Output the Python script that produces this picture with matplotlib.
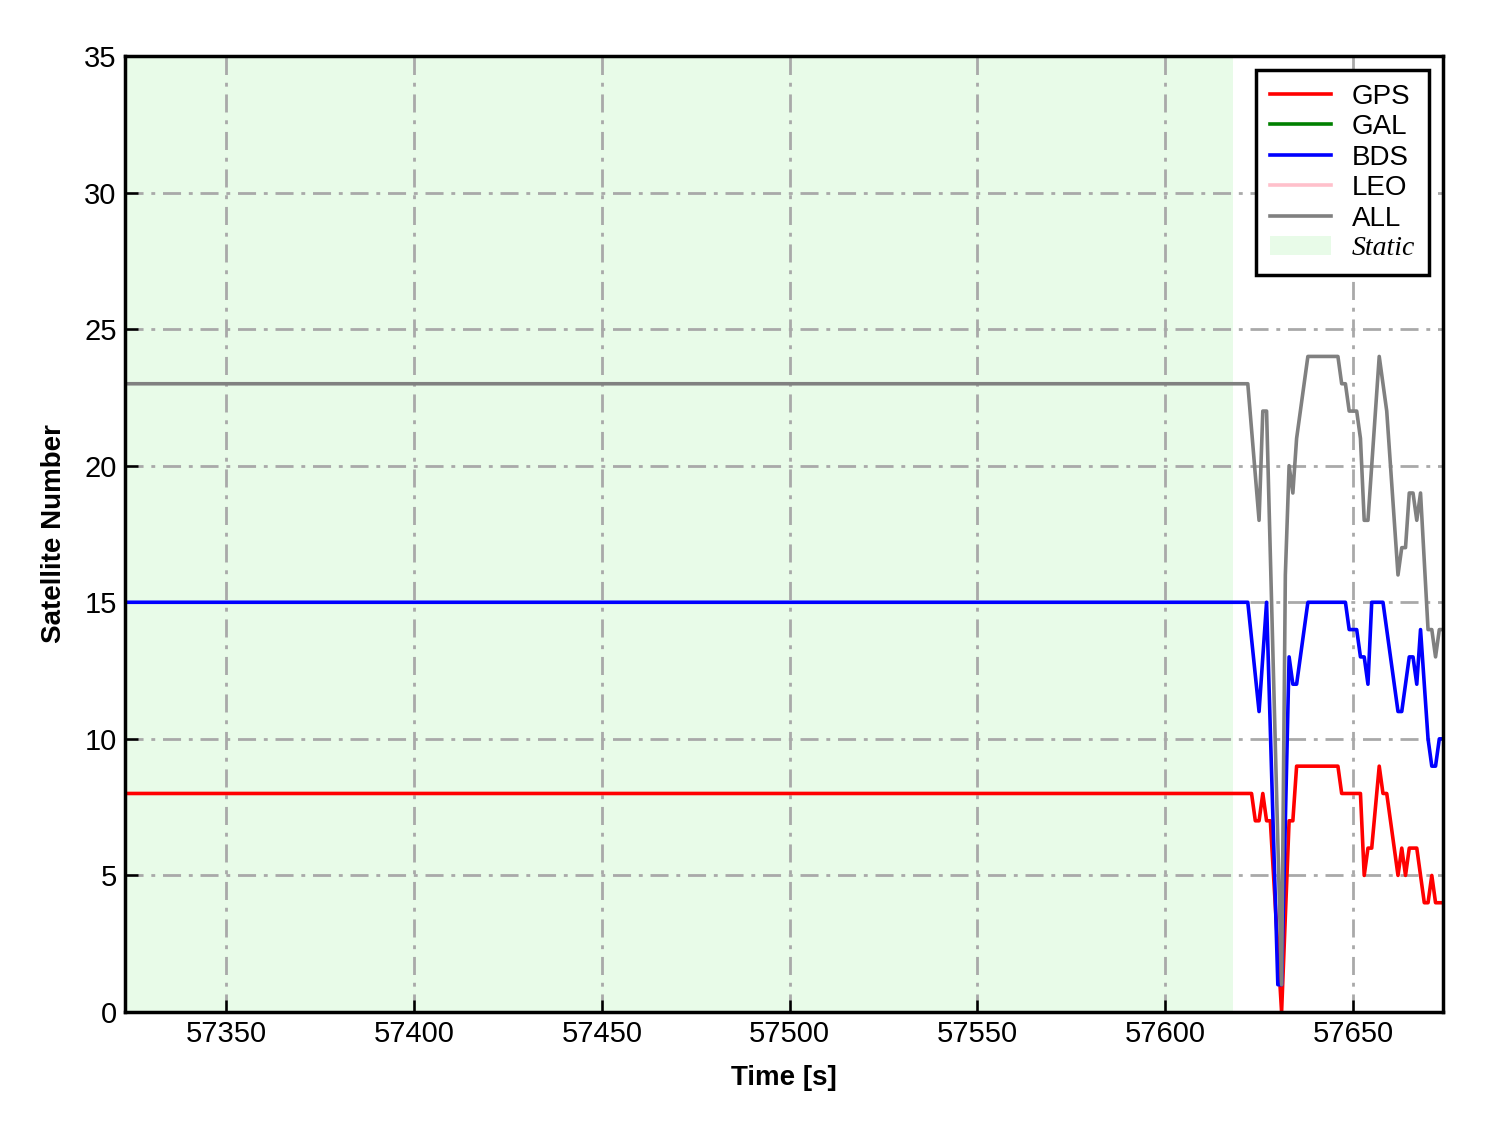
import numpy as np
import matplotlib
matplotlib.use('Agg')
import matplotlib.pyplot as plt

plt.rcParams['font.family'] = ['Liberation Sans', 'DejaVu Sans']

# epochs [s] and satellite counts
t_gps = [57323, 57623, 57624, 57625, 57626, 57627, 57628, 57631, 57633, 57634,
         57635, 57646, 57647, 57652, 57653, 57654, 57655, 57657, 57658, 57659,
         57662, 57663, 57664, 57665, 57667, 57669, 57670, 57671, 57672, 57674]
n_gps = [8, 8, 7, 7, 8, 7, 7, 0, 7, 7,
         9, 9, 8, 8, 5, 6, 6, 9, 8, 8,
         5, 6, 5, 6, 6, 4, 4, 5, 4, 4]

t_gal = []
n_gal = []

t_bds = [57323, 57622, 57625, 57627, 57630, 57631, 57633, 57634, 57635, 57638,
         57648, 57649, 57651, 57652, 57653, 57654, 57655, 57658, 57662, 57663,
         57665, 57666, 57667, 57668, 57670, 57671, 57672, 57673, 57674]
n_bds = [15, 15, 11, 15, 1, 1, 13, 12, 12, 15,
         15, 14, 14, 13, 13, 12, 15, 15, 11, 11,
         13, 13, 12, 14, 10, 9, 9, 10, 10]

t_leo = []
n_leo = []

t_all = [57323, 57622, 57625, 57626, 57627, 57631, 57632, 57633, 57634, 57635,
         57638, 57646, 57647, 57648, 57649, 57651, 57652, 57653, 57654, 57657,
         57659, 57662, 57663, 57664, 57665, 57666, 57667, 57668, 57670, 57671,
         57672, 57673, 57674]
n_all = [23, 23, 18, 22, 22, 1, 16, 20, 19, 21,
         24, 24, 23, 23, 22, 22, 21, 18, 18, 24,
         22, 16, 17, 17, 19, 19, 18, 19, 14, 14,
         13, 14, 14]

static_span = (57323, 57618)
x_ticks = [57350, 57400, 57450, 57500, 57550, 57600, 57650]
y_ticks = [0, 5, 10, 15, 20, 25, 30, 35]


def main():
    fig = plt.figure(figsize=(14.88, 11.33), dpi=100)
    ax = fig.add_axes([0.084, 0.1068, 0.8858, 0.8438])

    ax.axvspan(static_span[0], static_span[1], color='lightgreen', alpha=0.2,
               lw=0, label='Static')
    lw = 2.6
    ax.plot(t_gps, n_gps, color='red', lw=lw, label='GPS')
    ax.plot(t_gal, n_gal, color='green', lw=lw, label='GAL')
    ax.plot(t_bds, n_bds, color='blue', lw=lw, label='BDS')
    ax.plot(t_leo, n_leo, color='pink', lw=lw, label='LEO')
    ax.plot(t_all, n_all, color='gray', lw=lw, label='ALL')

    ax.set_xlim(57323, 57674)
    ax.set_ylim(0, 35)
    ax.set_xticks(x_ticks)
    ax.set_yticks(y_ticks)
    ax.grid(True, color='darkgray', lw=2.0, dashes=(6.5, 2.8, 1.4, 2.8))
    ax.tick_params(direction='in', length=9, width=1.8, labelsize=21, pad=6)
    for s in ax.spines.values():
        s.set_linewidth(2.5)

    ax.set_xlabel('Time [s]', fontsize=20, fontweight='bold', labelpad=12)
    ax.set_ylabel('Satellite Number', fontsize=20, fontweight='bold', labelpad=12)

    handles, labels = ax.get_legend_handles_labels()
    order = ['GPS', 'GAL', 'BDS', 'LEO', 'ALL', 'Static']
    hmap = dict(zip(labels, handles))
    leg = ax.legend([hmap[k] for k in order], order, loc='upper right',
                    fontsize=20, fancybox=False, framealpha=1, edgecolor='black',
                    handlelength=2.2, handletextpad=0.75, labelspacing=0.16,
                    borderpad=0.5, borderaxespad=0.5)
    leg.get_frame().set_linewidth(2.5)
    leg.get_texts()[-1].set_fontfamily('Liberation Serif')
    leg.get_texts()[-1].set_fontstyle('italic')

    fig.savefig('out.png', dpi=100)


if __name__ == '__main__':
    main()
